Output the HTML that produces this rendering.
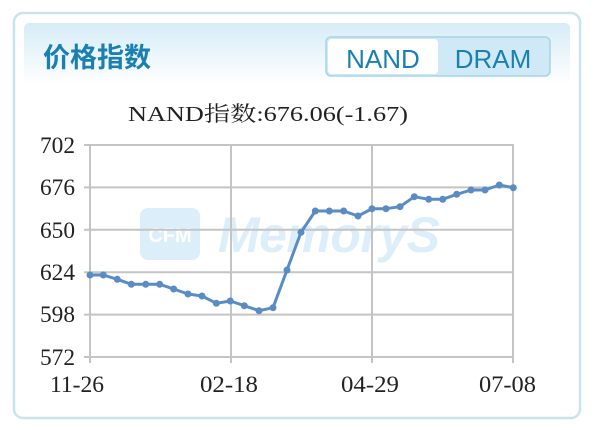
<!DOCTYPE html>
<html><head><meta charset="utf-8"><style>
html,body{margin:0;padding:0;background:#fff;width:600px;height:430px;overflow:hidden}
</style></head><body>
<svg width="600" height="430" xmlns="http://www.w3.org/2000/svg">
<defs>
<linearGradient id="hg" x1="0" y1="0" x2="0" y2="1">
<stop offset="0" stop-color="#d6ecf7"/><stop offset="1" stop-color="#ffffff"/>
</linearGradient>
</defs>
<rect x="14" y="13" width="566" height="405" rx="9" fill="#fff" stroke="#c9e3ef" stroke-width="2.5"/>
<rect x="24" y="23" width="546" height="62" rx="5" fill="url(#hg)"/>
<text x="43" y="67" font-family="'Noto Sans CJK SC',sans-serif" font-weight="bold" font-size="27" fill="#1a80b2">价格指数</text>
<rect x="326" y="37" width="224" height="39" rx="5" fill="#cfe9f6" stroke="#a9d3e8" stroke-width="1.5"/>
<rect x="328" y="39" width="110" height="35" rx="4" fill="#fff"/>
<text x="383" y="68" text-anchor="middle" font-family="'Liberation Sans',sans-serif" font-size="26" fill="#1a80b2">NAND</text>
<text x="493" y="68" text-anchor="middle" font-family="'Liberation Sans',sans-serif" font-size="26" fill="#1a80b2">DRAM</text>
<text x="128" y="121" font-family="'Liberation Serif','Noto Serif CJK SC',serif" font-size="21" fill="#222" textLength="280" lengthAdjust="spacingAndGlyphs">NAND指数:676.06(-1.67)</text>
<!-- watermark -->
<rect x="140" y="208" width="60" height="52" rx="8" fill="#dceefa"/>
<text x="170" y="242" text-anchor="middle" font-family="'Liberation Sans',sans-serif" font-weight="bold" font-size="20" fill="#fff">CFM</text>
<text x="218" y="252" font-family="'Liberation Sans',sans-serif" font-weight="bold" font-style="italic" font-size="50" fill="#dceefa" textLength="222">MemoryS</text>
<!-- grid -->
<g stroke="#c4c4c4" stroke-width="2">
<line x1="84" y1="145" x2="514" y2="145"/>
<line x1="84" y1="187.4" x2="514" y2="187.4"/>
<line x1="84" y1="229.8" x2="514" y2="229.8"/>
<line x1="84" y1="272.2" x2="514" y2="272.2"/>
<line x1="84" y1="314.6" x2="514" y2="314.6"/>
<line x1="84" y1="357" x2="514" y2="357"/>
<line x1="90" y1="145" x2="90" y2="363"/>
<line x1="231" y1="145" x2="231" y2="363"/>
<line x1="372" y1="145" x2="372" y2="363"/>
<line x1="513" y1="145" x2="513" y2="363"/>
</g>
<g font-family="'Liberation Serif',serif" font-size="23" fill="#222" lengthAdjust="spacingAndGlyphs">
<text x="40" y="153" textLength="35" lengthAdjust="spacingAndGlyphs">702</text>
<text x="40" y="195" textLength="35" lengthAdjust="spacingAndGlyphs">676</text>
<text x="40" y="238" textLength="35" lengthAdjust="spacingAndGlyphs">650</text>
<text x="40" y="280" textLength="35" lengthAdjust="spacingAndGlyphs">624</text>
<text x="40" y="322" textLength="35" lengthAdjust="spacingAndGlyphs">598</text>
<text x="40" y="365" textLength="35" lengthAdjust="spacingAndGlyphs">572</text>
<text x="50" y="392" textLength="54" lengthAdjust="spacingAndGlyphs">11-26</text>
<text x="200" y="392" textLength="58" lengthAdjust="spacingAndGlyphs">02-18</text>
<text x="341" y="392" textLength="58" lengthAdjust="spacingAndGlyphs">04-29</text>
<text x="479" y="392" textLength="57" lengthAdjust="spacingAndGlyphs">07-08</text>
</g>
<g fill="#5a8cc4">
<polyline fill="none" stroke="#5a8cc4" stroke-width="3" stroke-linejoin="round" points="90,275 103.3,275 117.3,279.3 131.3,284.3 145.7,284.3 159.7,284.3 173.7,289 188,294 202,296 216.3,303.3 230.3,301 244.3,305.7 259,310.7 273,307.7 287,270 301,232.3 315.3,211 329.3,211 343.7,211 358,216 372,208.7 386,208.7 400,206.7 414.3,196.7 428.7,199.3 442.7,199.3 456.7,194.3 471,190 485,190 499.3,185 513.3,187.7"/>
<circle cx="90" cy="275" r="3.5"/><circle cx="103.3" cy="275" r="3.5"/><circle cx="117.3" cy="279.3" r="3.5"/><circle cx="131.3" cy="284.3" r="3.5"/><circle cx="145.7" cy="284.3" r="3.5"/><circle cx="159.7" cy="284.3" r="3.5"/><circle cx="173.7" cy="289" r="3.5"/><circle cx="188" cy="294" r="3.5"/><circle cx="202" cy="296" r="3.5"/><circle cx="216.3" cy="303.3" r="3.5"/><circle cx="230.3" cy="301" r="3.5"/><circle cx="244.3" cy="305.7" r="3.5"/><circle cx="259" cy="310.7" r="3.5"/><circle cx="273" cy="307.7" r="3.5"/><circle cx="287" cy="270" r="3.5"/><circle cx="301" cy="232.3" r="3.5"/><circle cx="315.3" cy="211" r="3.5"/><circle cx="329.3" cy="211" r="3.5"/><circle cx="343.7" cy="211" r="3.5"/><circle cx="358" cy="216" r="3.5"/><circle cx="372" cy="208.7" r="3.5"/><circle cx="386" cy="208.7" r="3.5"/><circle cx="400" cy="206.7" r="3.5"/><circle cx="414.3" cy="196.7" r="3.5"/><circle cx="428.7" cy="199.3" r="3.5"/><circle cx="442.7" cy="199.3" r="3.5"/><circle cx="456.7" cy="194.3" r="3.5"/><circle cx="471" cy="190" r="3.5"/><circle cx="485" cy="190" r="3.5"/><circle cx="499.3" cy="185" r="3.5"/><circle cx="513.3" cy="187.7" r="3.5"/>
</g>
</svg>
</body></html>
